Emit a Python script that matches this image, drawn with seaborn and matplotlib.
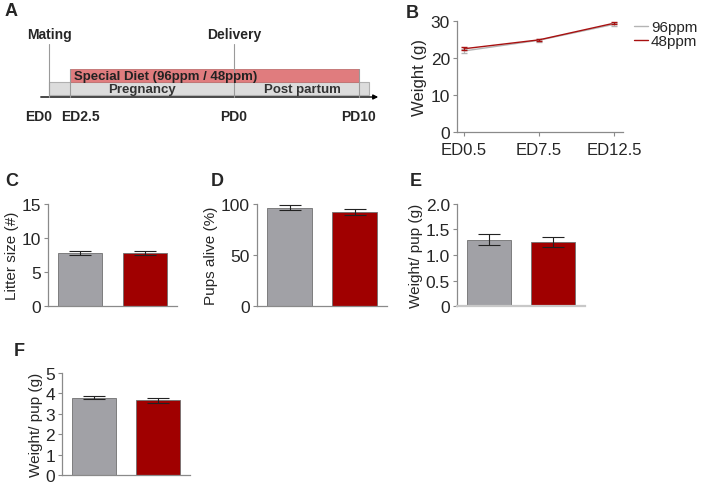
import numpy as np
import pandas as pd
import matplotlib
matplotlib.use("Agg")
import matplotlib.pyplot as plt
import seaborn as sns

# ---- data ----
groups = ["96ppm", "48ppm"]
group_colors = ["#a1a1a6", "#a00000"]

# B: maternal weight
b_days = ["ED0.5", "ED7.5", "ED12.5"]
b_96 = [21.9, 24.8, 29.1]
b_96_err = [0.5, 0.4, 0.4]
b_48 = [22.5, 24.9, 29.4]
b_48_err = [0.4, 0.3, 0.3]

# C-F: bar panels
c_mean = [7.8, 7.8]
c_err = [0.35, 0.3]
d_mean = [96.2, 92.5]
d_err = [2.5, 2.8]
e_mean = [1.30, 1.25]
e_err = [0.11, 0.10]
f_mean = [3.79, 3.66]
f_err = [0.08, 0.13]

# A: timeline schematic (pixel positions of the schematic)
tl_labels = ["ED0", "ED2.5", "PD0", "PD10"]
tl_pos = [49, 70, 234, 359]
tl_events = ["Mating", "Delivery"]

sns.set_theme(style="white")
plt.rcParams["font.family"] = ["Liberation Sans", "DejaVu Sans"]

W, H = 702, 489
fig = plt.figure(figsize=(W / 100, H / 100), dpi=100)


def rect(l, r, t, b):
    return [l / W, 1 - b / H, (r - l) / W, (b - t) / H]


def panel_label(x, y, s):
    fig.text(x / W, 1 - y / H, s, fontsize=13, fontweight="bold", va="center", ha="left")


def style_axis(ax):
    sns.despine(ax=ax)
    for sp in ["left", "bottom"]:
        ax.spines[sp].set_color("#8a8a8a")
        ax.spines[sp].set_linewidth(0.9)
    ax.tick_params(axis="y", left=True, length=3, width=0.8, color="#8a8a8a",
                   labelsize=12.5, pad=2)


# ---- A ----
axA = fig.add_axes([0, 1 - 130 / H, 400 / W, 130 / H])
axA.set_xlim(0, 400)
axA.set_ylim(130, 0)
axA.axis("off")
axA.add_patch(plt.Rectangle((tl_pos[0], 83), 369 - tl_pos[0], 13, fc="#dcdcdc",
                            ec="#b0b0b0", lw=0.8, zorder=1))
axA.add_patch(plt.Rectangle((tl_pos[1], 70), tl_pos[3] - tl_pos[1], 13, fc="#e07c7e",
                            ec="#c07070", lw=0.6, zorder=2))
axA.annotate("", xy=(381, 98), xytext=(38, 98),
             arrowprops=dict(arrowstyle="-|>", color="black", lw=1.0, mutation_scale=7))
label_shift = {"ED0": -10, "ED2.5": 10}
for lab, x in zip(tl_labels, tl_pos):
    top = 45 if lab in ("ED0", "PD0") else 70
    axA.plot([x, x], [top, 98], color="#9a9a9a", lw=0.8, zorder=3)
    axA.text(x + label_shift.get(lab, 0), 117, lab, ha="center", va="center",
             fontsize=10, fontweight="bold")
axA.text(tl_pos[0], 35, tl_events[0], ha="center", va="center", fontsize=10, fontweight="bold")
axA.text(tl_pos[2], 35, tl_events[1], ha="center", va="center", fontsize=10, fontweight="bold")
axA.text(74, 77, "Special Diet (96ppm / 48ppm)", ha="left", va="center",
         fontsize=9.5, fontweight="bold", color="#222222", zorder=4)
axA.text(142, 90, "Pregnancy", ha="center", va="center", fontsize=9.5,
         fontweight="bold", color="#333333", zorder=4)
axA.text(302, 90, "Post partum", ha="center", va="center", fontsize=9.5,
         fontweight="bold", color="#333333", zorder=4)
panel_label(5, 12, "A")

# ---- B ----
axB = fig.add_axes(rect(457, 623, 22, 133))
df_b = pd.DataFrame({
    "day": b_days * 2,
    "x": list(range(len(b_days))) * 2,
    "weight": b_96 + b_48,
    "err": b_96_err + b_48_err,
    "group": [groups[0]] * 3 + [groups[1]] * 3,
})
line_cols = {"96ppm": "#b4b4b4", "48ppm": "#a81010"}
sns.lineplot(data=df_b, x="x", y="weight", hue="group", palette=line_cols,
             lw=1.0, ax=axB)
for g in groups:
    sub = df_b[df_b["group"] == g]
    axB.errorbar(sub["x"], sub["weight"], yerr=sub["err"], fmt="none",
                 ecolor=line_cols[g], elinewidth=0.8, capsize=2.5)
axB.set_xlim(-0.093, 2.12)
axB.set_ylim(0, 30)
axB.set_yticks([0, 10, 20, 30])
axB.set_xticks(range(len(b_days)))
axB.set_xticklabels(b_days)
axB.set_xlabel("")
axB.set_ylabel("Weight (g)", fontsize=12, labelpad=3)
style_axis(axB)
axB.tick_params(axis="x", bottom=True, length=3, width=0.8, color="#8a8a8a",
                labelsize=12, pad=4)
axB.legend(loc="upper left", bbox_to_anchor=(634 / W, 1 - 21 / H),
           bbox_transform=fig.transFigure, frameon=False, fontsize=11,
           handlelength=0.9, handletextpad=0.2, labelspacing=0.0,
           borderaxespad=0, borderpad=0)
panel_label(406, 13, "B")


# ---- C-F ----
def bar_panel(r, means, errs, yticks, ylabel, ticklabels=None):
    ax = fig.add_axes(r)
    df = pd.DataFrame({"group": groups, "value": means})
    sns.barplot(data=df, x="group", y="value", hue="group", palette=group_colors,
                saturation=1, width=0.68, edgecolor="#707070", linewidth=0.6,
                legend=False, ax=ax)
    ax.errorbar(range(len(groups)), means, yerr=errs, fmt="none", ecolor="#222222",
                elinewidth=0.8, capsize=8, capthick=0.8)
    ax.set_xlim(-0.5, 1.5)
    ax.set_ylim(yticks[0], yticks[-1])
    ax.set_yticks(yticks)
    if ticklabels is not None:
        ax.set_yticklabels(ticklabels)
    ax.set_xticks([])
    ax.set_xlabel("")
    ax.set_ylabel(ylabel, fontsize=11, labelpad=2)
    style_axis(ax)
    return ax


bar_panel(rect(48, 177, 205, 307), c_mean, c_err, [0, 5, 10, 15], "Litter size (#)")
panel_label(5, 182, "C")
bar_panel(rect(257, 387, 205, 307), d_mean, d_err, [0, 50, 100], "Pups alive (%)")
panel_label(211, 182, "D")
axE = bar_panel(rect(457, 585, 205, 307), e_mean, e_err, [0, 0.5, 1.0, 1.5, 2.0],
                "Weight/ pup (g)", ["0", "0.5", "1.0", "1.5", "2.0"])
axE.spines["bottom"].set_color("#c8c8c8")
axE.spines["bottom"].set_linewidth(1.6)
panel_label(410, 182, "E")
bar_panel(rect(62, 190, 374, 476), f_mean, f_err, [0, 1, 2, 3, 4, 5], "Weight/ pup (g)")
panel_label(14, 352, "F")

fig.savefig("out.png", dpi=100)
